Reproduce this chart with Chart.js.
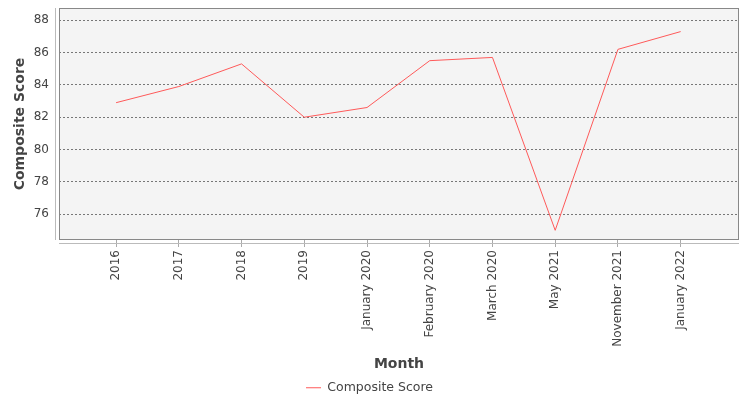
<!DOCTYPE html>
<html>
<head>
<meta charset="utf-8">
<script src="https://cdn.jsdelivr.net/npm/chart.js@4"></script>
<style>
  html, body { margin: 0; padding: 0; background: #fff; }
  #wrap { width: 750px; height: 400px; }
</style>
</head>
<body>
<div id="wrap"><canvas id="scoreChart"></canvas></div>
<script>
// chart data
const months = ['2016', '2017', '2018', '2019', 'January 2020', 'February 2020',
  'March 2020', 'May 2021', 'November 2021', 'January 2022'];
const compositeScore = [82.9, 83.9, 85.3, 82.0, 82.6, 85.5, 85.7, 75.0, 86.2, 87.3];
const yTicks = [76, 78, 80, 82, 84, 86, 88];

const FONT = "'DejaVu Sans', sans-serif";

// plot background, frame and the offset axis lines
const plotFrame = {
  id: 'plotFrame',
  beforeDraw(chart) {
    const { ctx, chartArea: a } = chart;
    ctx.save();
    ctx.fillStyle = '#f4f4f4';
    ctx.fillRect(a.left, a.top, a.right - a.left, a.bottom - a.top);
    ctx.restore();
  },
  afterDatasetsDraw(chart) {
    const { ctx, chartArea: a } = chart;
    ctx.save();
    ctx.strokeStyle = '#888';
    ctx.lineWidth = 1;
    ctx.strokeRect(a.left + 0.5, a.top + 0.5, a.right - a.left - 1, a.bottom - a.top - 1);
    ctx.strokeStyle = '#bbb';
    ctx.beginPath();
    ctx.moveTo(a.left - 3.5, a.top);
    ctx.lineTo(a.left - 3.5, a.bottom);
    ctx.moveTo(a.left, a.bottom + 3.5);
    ctx.lineTo(a.right, a.bottom + 3.5);
    ctx.stroke();
    ctx.restore();
  }
};

const ctx = document.getElementById('scoreChart').getContext('2d');
new Chart(ctx, {
  type: 'line',
  data: {
    datasets: [{
      label: 'Composite Score',
      data: compositeScore.map((v, i) => ({ x: i, y: v })),
      borderColor: '#ff5a5a',
      backgroundColor: '#ff5a5a',
      borderWidth: 1,
      pointRadius: 0,
      pointStyle: 'line',
      tension: 0,
      fill: false
    }]
  },
  options: {
    responsive: true,
    maintainAspectRatio: false,
    animation: false,
    layout: { padding: { top: 8, right: 11, left: 0, bottom: -4 } },
    plugins: {
      tooltip: { enabled: false },
      legend: {
        position: 'bottom',
        labels: {
          usePointStyle: true,
          pointStyleWidth: 15,
          boxHeight: 10,
          color: '#444',
          font: { family: FONT, size: 12.5 },
          padding: 4.5
        }
      }
    },
    scales: {
      x: {
        type: 'linear',
        min: -0.91,
        max: 9.93,
        afterBuildTicks: axis => { axis.ticks = months.map((_, i) => ({ value: i })); },
        afterFit: s => { s.height = 137; s.paddingLeft = 0; s.paddingRight = 0; },
        border: { display: false },
        grid: {
          drawOnChartArea: false,
          drawTicks: true,
          tickLength: 7,
          color: '#aaa'
        },
        ticks: {
          autoSkip: false,
          minRotation: 90,
          maxRotation: 90,
          padding: 3,
          color: '#444',
          font: { family: FONT, size: 12 },
          callback: v => months[v]
        },
        title: {
          display: true,
          text: 'Month',
          color: '#444',
          font: { family: FONT, size: 14, weight: 'bold' },
          padding: { top: 0, bottom: 4 }
        }
      },
      y: {
        min: 74.4,
        max: 88.76,
        afterBuildTicks: axis => { axis.ticks = yTicks.map(v => ({ value: v })); },
        afterFit: s => { s.width = 59; s.paddingTop = 0; s.paddingBottom = 0; },
        border: { display: false, dash: [2, 2] },
        grid: {
          drawTicks: false,
          color: '#777',
          lineWidth: 1
        },
        ticks: {
          includeBounds: false,
          padding: 10,
          color: '#444',
          font: { family: FONT, size: 12 }
        },
        title: {
          display: true,
          text: 'Composite Score',
          color: '#444',
          font: { family: FONT, size: 14, weight: 'bold' },
          padding: { top: 12, bottom: 0 }
        }
      }
    }
  },
  plugins: [plotFrame]
});
</script>
</body>
</html>
